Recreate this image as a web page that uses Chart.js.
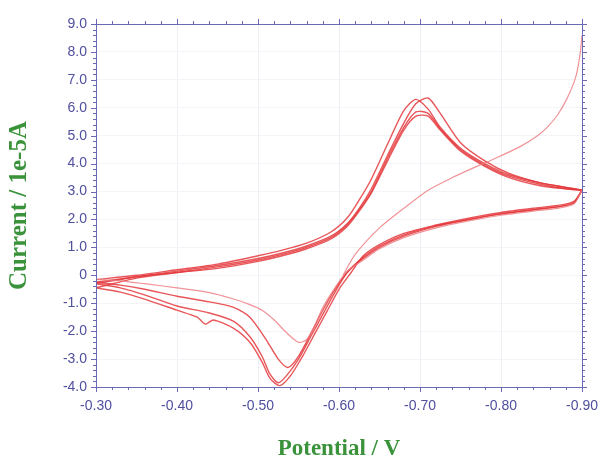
<!DOCTYPE html>
<html>
<head>
<meta charset="utf-8">
<script src="https://cdn.jsdelivr.net/npm/chart.js@4"></script>
<style>
  html, body { margin: 0; padding: 0; background: #ffffff; }
  #wrap { width: 602px; height: 463px; }
</style>
</head>
<body>
<div id="wrap"><canvas id="c" width="602" height="463"></canvas></div>
<script>
// ---- data (Potential in V, Current in 1e-5 A) ----
const xTicks = [-0.30, -0.40, -0.50, -0.60, -0.70, -0.80, -0.90];
const yTicks = [9, 8, 7, 6, 5, 4, 3, 2, 1, 0, -1, -2, -3, -4];

// first (initial) sweep, thin line
const initE = [-0.605, -0.62, -0.65, -0.68, -0.71, -0.74, -0.77, -0.79, -0.823, -0.845, -0.857, -0.87, -0.881, -0.89, -0.894, -0.898, -0.90];
const initI = [0.0, 0.75, 1.7, 2.4, 3.05, 3.5, 3.9, 4.15, 4.6, 5.0, 5.3, 5.75, 6.3, 6.9, 7.3, 8.0, 8.6];

// forward sweeps (-0.30 -> -0.90)
const fwdE = [-0.30, -0.35, -0.40, -0.45, -0.50, -0.53, -0.56, -0.59, -0.61, -0.625, -0.64, -0.66, -0.68, -0.695, -0.71, -0.725, -0.75, -0.78, -0.81, -0.85, -0.88, -0.90];
const fwd2 = [-0.15, 0.0, 0.2, 0.4, 0.7, 0.9, 1.15, 1.55, 2.05, 2.7, 3.45, 4.7, 5.9, 6.3, 5.95, 5.3, 4.55, 4.0, 3.6, 3.3, 3.15, 3.05];
const fwd3 = [-0.25, -0.05, 0.15, 0.35, 0.6, 0.8, 1.05, 1.4, 1.85, 2.4, 3.1, 4.3, 5.45, 6.15, 6.35, 5.8, 4.75, 4.1, 3.65, 3.3, 3.15, 3.05];
const fwd4 = [-0.3, -0.05, 0.1, 0.3, 0.55, 0.75, 1.0, 1.35, 1.8, 2.35, 3.0, 4.2, 5.3, 5.85, 5.8, 5.25, 4.5, 3.95, 3.55, 3.25, 3.1, 3.05];
const fwd5 = [-0.45, -0.1, 0.1, 0.25, 0.5, 0.7, 0.95, 1.3, 1.75, 2.3, 2.95, 4.1, 5.2, 5.7, 5.7, 5.2, 4.45, 3.9, 3.5, 3.2, 3.1, 3.05];

// reverse sweeps (-0.90 -> -0.30): common start, then each cycle's tail
const revHeadE = [-0.90, -0.89, -0.87, -0.84, -0.80, -0.76, -0.72, -0.68, -0.65, -0.63];
const rev1Head = [3.05, 2.55, 2.4, 2.3, 2.15, 1.95, 1.7, 1.35, 0.95, 0.55];
const rev2Head = [3.05, 2.6, 2.45, 2.35, 2.2, 2.0, 1.75, 1.4, 1.0, 0.6];
const rev3Head = [3.05, 2.6, 2.45, 2.35, 2.2, 2.0, 1.78, 1.45, 1.05, 0.65];
const rev4Head = [3.05, 2.65, 2.5, 2.4, 2.25, 2.05, 1.8, 1.5, 1.1, 0.7];

const rev1E = [-0.61, -0.595, -0.58, -0.57, -0.56, -0.55, -0.535, -0.52, -0.505, -0.49, -0.47, -0.44, -0.40, -0.36, -0.33, -0.30];
const rev1I = [0.15, -0.45, -1.15, -1.8, -2.3, -2.4, -2.05, -1.6, -1.25, -1.05, -0.85, -0.62, -0.45, -0.3, -0.2, -0.15];
const rev2E = [-0.61, -0.595, -0.58, -0.565, -0.55, -0.537, -0.525, -0.51, -0.49, -0.47, -0.44, -0.40, -0.36, -0.33, -0.30];
const rev2I = [0.1, -0.5, -1.25, -2.1, -2.9, -3.3, -3.0, -2.3, -1.5, -1.15, -0.95, -0.75, -0.5, -0.35, -0.25];
const rev3E = [-0.61, -0.595, -0.58, -0.565, -0.55, -0.535, -0.525, -0.515, -0.505, -0.49, -0.47, -0.44, -0.40, -0.36, -0.33, -0.30];
const rev3I = [0.1, -0.6, -1.4, -2.2, -3.0, -3.6, -3.85, -3.55, -2.9, -2.2, -1.65, -1.35, -1.1, -0.7, -0.45, -0.3];
const rev4E = [-0.615, -0.60, -0.585, -0.57, -0.555, -0.54, -0.527, -0.515, -0.505, -0.49, -0.47, -0.445, -0.435, -0.425, -0.40, -0.36, -0.33, -0.30];
const rev4I = [0.1, -0.5, -1.3, -2.1, -2.9, -3.6, -3.95, -3.7, -3.1, -2.4, -1.9, -1.6, -1.75, -1.5, -1.25, -0.85, -0.6, -0.45];

// ---- build datasets ----
function pts(es, is) { return es.map((e, i) => ({ x: e, y: is[i] })); }
const RED = 'rgba(228,56,60,0.85)';
const PINK = 'rgba(236,120,125,0.8)';
function ds(data, color, w) {
  return { data, borderColor: color, borderWidth: w, pointRadius: 0, showLine: true, tension: 0.25, fill: false };
}
const datasets = [
  ds(pts(initE, initI), PINK, 1.2),
  ds(pts(revHeadE.concat(rev1E), rev1Head.concat(rev1I)), PINK, 1.2),
  ds(pts(fwdE, fwd2), RED, 1.4),
  ds(pts(revHeadE.concat(rev2E), rev2Head.concat(rev2I)), RED, 1.4),
  ds(pts(fwdE, fwd3), RED, 1.4),
  ds(pts(revHeadE.concat(rev3E), rev3Head.concat(rev3I)), RED, 1.4),
  ds(pts(fwdE, fwd4), RED, 1.4),
  ds(pts(revHeadE.concat(rev4E), rev4Head.concat(rev4I)), RED, 1.4),
  ds(pts(fwdE, fwd5), RED, 1.4)
];

const AXIS = '#6a6ab4';
const LABEL = '#4f4f9f';
const GREEN = '#3a923a';

const frame = {
  id: 'frame',
  afterDraw(chart) {
    const { ctx, chartArea: a, scales: { x, y } } = chart;
    ctx.save();
    ctx.strokeStyle = AXIS;
    ctx.lineWidth = 1;
    ctx.beginPath();
    ctx.rect(Math.round(a.left) + 0.5, Math.round(a.top) + 0.5, Math.round(a.right - a.left), Math.round(a.bottom - a.top));
    ctx.stroke();
    ctx.beginPath();
    for (let k = 0; k <= 30; k++) {
      const v = -0.30 - k * 0.02;
      const px = Math.round(x.getPixelForValue(v)) + 0.5;
      const major = k % 5 === 0;
      const L = major ? 5 : 3;
      ctx.moveTo(px, a.bottom); ctx.lineTo(px, a.bottom + L);
      ctx.moveTo(px, a.top); ctx.lineTo(px, a.top - L);
    }
    for (let k = 0; k <= 65; k++) {
      const v = -4 + k * 0.2;
      const py = Math.round(y.getPixelForValue(v)) + 0.5;
      const major = k % 5 === 0;
      const L = major ? 5 : 3;
      ctx.moveTo(a.left, py); ctx.lineTo(a.left - L, py);
      ctx.moveTo(a.right, py); ctx.lineTo(a.right + L, py);
    }
    ctx.stroke();
    ctx.restore();
  }
};

new Chart(document.getElementById('c'), {
  type: 'scatter',
  data: { datasets },
  plugins: [frame],
  options: {
    responsive: false,
    animation: false,
    devicePixelRatio: 1,
    layout: { padding: { top: 24, right: 20, bottom: 0, left: 0 } },
    plugins: { legend: { display: false }, tooltip: { enabled: false } },
    scales: {
      x: {
        type: 'linear', reverse: true, min: -0.90, max: -0.30,
        afterBuildTicks: s => { s.ticks = xTicks.map(v => ({ value: v })); },
        afterFit: s => { s.height = 76; s.paddingLeft = 0; s.paddingRight = 0; },
        ticks: { stepSize: 0.1, autoSkip: false, maxRotation: 0, padding: 11, color: LABEL,
                 font: { family: "'Liberation Sans', Arial, sans-serif", size: 14 },
                 callback: v => v.toFixed(2) },
        grid: { color: '#eeeef5', drawTicks: false },
        border: { display: true, color: AXIS },
        title: { display: true, text: 'Potential / V', color: GREEN,
                 font: { family: "'Liberation Serif', 'Times New Roman', serif", size: 23, weight: 'bold' },
                 padding: { top: 0, bottom: 0 } }
      },
      y: {
        type: 'linear', min: -4, max: 9,
        afterBuildTicks: s => { s.ticks = yTicks.map(v => ({ value: v })); },
        afterFit: s => { s.width = 96; s.paddingTop = 0; s.paddingBottom = 0; },
        ticks: { stepSize: 1, autoSkip: false, padding: 9, color: LABEL,
                 font: { family: "'Liberation Sans', Arial, sans-serif", size: 14 },
                 callback: v => v === 0 ? '0' : v.toFixed(1) },
        grid: { color: '#f3f3f8', drawTicks: false },
        border: { display: true, color: AXIS },
        title: { display: true, text: 'Current / 1e-5A', color: GREEN,
                 font: { family: "'Liberation Serif', 'Times New Roman', serif", size: 25, weight: 'bold' },
                 padding: { top: 5, bottom: 0 } }
      }
    }
  }
});
</script>
</body>
</html>
